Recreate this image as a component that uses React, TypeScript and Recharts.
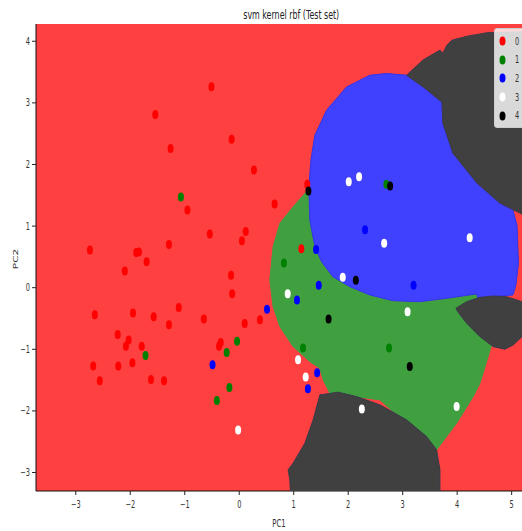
import React from "react";
import { ComposedChart, Scatter, XAxis, YAxis, CartesianGrid, Legend, Label } from "recharts";

const FONT = "'DejaVu Sans', sans-serif";
// the whole figure is drawn horizontally compressed, so text is squeezed too
const SQUISH = 0.66;

const xTicks = [-3, -2, -1, 0, 1, 2, 3, 4, 5];
const yTicks = [-3, -2, -1, 0, 1, 2, 3, 4];

type Pt = { x: number; y: number };

const classNames = ["0", "1", "2", "3", "4"];
const pointColors = ["#ff0000", "#008000", "#0000ff", "#ffffff", "#000000"];
const regionColors = ["#ff4040", "#40a040", "#4040ff", "#ffffff", "#404040"];

// test set, projected on the first two principal components
const class0: Pt[] = [
  { x: -0.51, y: 3.26 }, { x: -1.54, y: 2.81 }, { x: -0.14, y: 2.41 }, { x: -1.26, y: 2.26 },
  { x: 0.27, y: 1.91 }, { x: -0.95, y: 1.26 }, { x: -0.54, y: 0.87 }, { x: 0.12, y: 0.91 },
  { x: 0.05, y: 0.76 }, { x: -1.29, y: 0.7 }, { x: -2.74, y: 0.61 }, { x: -1.89, y: 0.57 },
  { x: -1.84, y: 0.58 }, { x: -1.7, y: 0.42 }, { x: -2.1, y: 0.27 }, { x: -0.15, y: 0.2 },
  { x: -0.13, y: -0.1 }, { x: -2.65, y: -0.44 }, { x: -1.95, y: -0.41 }, { x: -1.57, y: -0.47 },
  { x: -1.11, y: -0.32 }, { x: -1.29, y: -0.6 }, { x: -0.65, y: -0.51 }, { x: 0.1, y: -0.58 },
  { x: 0.38, y: -0.52 }, { x: -2.23, y: -0.76 }, { x: -2.03, y: -0.85 }, { x: -2.08, y: -0.95 },
  { x: -1.79, y: -0.95 }, { x: -1.96, y: -1.22 }, { x: -2.68, y: -1.27 }, { x: -2.22, y: -1.27 },
  { x: -2.56, y: -1.51 }, { x: -1.62, y: -1.49 }, { x: -1.38, y: -1.51 }, { x: -0.37, y: -0.95 },
  { x: -0.34, y: -0.89 }, { x: 1.25, y: 1.68 }, { x: 0.65, y: 1.36 }, { x: 1.14, y: 0.63 },
];
const class1: Pt[] = [
  { x: -1.07, y: 1.47 }, { x: 0.82, y: 0.4 }, { x: -1.72, y: -1.1 }, { x: -0.04, y: -0.87 },
  { x: -0.23, y: -1.05 }, { x: -0.18, y: -1.62 }, { x: -0.41, y: -1.83 }, { x: 2.7, y: 1.68 },
  { x: 1.17, y: -0.98 }, { x: 2.75, y: -0.98 },
];
const class2: Pt[] = [
  { x: 0.51, y: -0.35 }, { x: -0.49, y: -1.25 }, { x: 2.31, y: 0.94 }, { x: 1.41, y: 0.62 },
  { x: 1.46, y: 0.04 }, { x: 3.2, y: 0.04 }, { x: 1.06, y: -0.2 }, { x: 1.43, y: -1.38 },
  { x: 1.26, y: -1.64 },
];
const class3: Pt[] = [
  { x: 0.89, y: -0.1 }, { x: -0.02, y: -2.31 }, { x: 2.01, y: 1.72 }, { x: 2.2, y: 1.8 },
  { x: 2.66, y: 0.72 }, { x: 4.23, y: 0.81 }, { x: 1.9, y: 0.17 }, { x: 3.09, y: -0.39 },
  { x: 1.08, y: -1.17 }, { x: 1.22, y: -1.45 }, { x: 2.25, y: -1.97 }, { x: 3.99, y: -1.93 },
];
const class4: Pt[] = [
  { x: 2.77, y: 1.65 }, { x: 1.27, y: 1.57 }, { x: 2.14, y: 0.12 }, { x: 1.64, y: -0.51 },
  { x: 3.13, y: -1.28 },
];
const classPoints = [class0, class1, class2, class3, class4];

// decision regions of the rbf classifier (outlines in PC1/PC2 units)
const region1: Pt[] = [
  { x: 1.26, y: 1.584 }, { x: 0.99, y: 1.313 }, { x: 0.746, y: 1.044 }, { x: 0.622, y: 0.665 },
  { x: 0.562, y: 0.125 }, { x: 0.622, y: -0.308 }, { x: 0.746, y: -0.632 }, { x: 0.99, y: -0.957 },
  { x: 1.296, y: -1.2 }, { x: 1.48, y: -1.307 }, { x: 1.541, y: -1.497 }, { x: 1.664, y: -1.712 },
  { x: 2.582, y: -1.821 }, { x: 3.623, y: -2.632 }, { x: 3.99, y: -2.199 }, { x: 4.295, y: -1.767 },
  { x: 4.419, y: -1.55 }, { x: 4.633, y: -0.929 }, { x: 4.877, y: -0.929 }, { x: 4.785, y: -0.037 },
  { x: 3.867, y: -0.037 }, { x: 2.031, y: 0.449 },
];
const region2: Pt[] = [
  { x: 2.705, y: 3.477 }, { x: 3.072, y: 3.449 }, { x: 3.408, y: 3.238 }, { x: 3.72, y: 3.011 },
  { x: 3.738, y: 2.67 }, { x: 3.922, y: 2.184 }, { x: 4.363, y: 1.698 }, { x: 4.785, y: 1.373 },
  { x: 5.024, y: 1.26 }, { x: 5.098, y: 1.017 }, { x: 5.125, y: 0.401 }, { x: 5.079, y: 0.044 },
  { x: 5.024, y: -0.118 }, { x: 4.657, y: -0.146 }, { x: 4.382, y: -0.167 }, { x: 4.357, y: -0.102 },
  { x: 3.807, y: -0.172 }, { x: 3.316, y: -0.227 }, { x: 2.82, y: -0.211 }, { x: 2.398, y: -0.118 },
  { x: 2.031, y: 0.016 }, { x: 1.719, y: 0.178 }, { x: 1.511, y: 0.422 }, { x: 1.388, y: 0.665 },
  { x: 1.296, y: 1.098 }, { x: 1.278, y: 1.633 }, { x: 1.315, y: 2.071 }, { x: 1.388, y: 2.476 },
  { x: 1.603, y: 2.882 }, { x: 1.97, y: 3.259 }, { x: 2.398, y: 3.449 },
];
const region4Top: Pt[] = [
  { x: 3.072, y: 3.449 }, { x: 3.371, y: 3.694 }, { x: 3.683, y: 3.856 }, { x: 3.738, y: 3.806 },
  { x: 3.811, y: 3.935 }, { x: 3.903, y: 4.016 }, { x: 4.179, y: 4.081 }, { x: 4.546, y: 4.138 },
  { x: 5.189, y: 4.154 }, { x: 5.52, y: 4.16 }, { x: 5.52, y: 1.163 }, { x: 5.189, y: 1.195 },
  { x: 4.785, y: 1.373 }, { x: 4.363, y: 1.698 }, { x: 3.922, y: 2.184 }, { x: 3.738, y: 2.67 },
  { x: 3.72, y: 3.011 }, { x: 3.408, y: 3.238 },
];
const region4Right: Pt[] = [
  { x: 3.977, y: -0.334 }, { x: 4.174, y: -0.227 }, { x: 4.419, y: -0.156 }, { x: 4.662, y: -0.135 },
  { x: 4.908, y: -0.146 }, { x: 5.189, y: -0.227 }, { x: 5.52, y: -0.28 }, { x: 5.52, y: -0.686 },
  { x: 5.189, y: -0.795 }, { x: 5.029, y: -0.929 }, { x: 4.877, y: -0.999 }, { x: 4.662, y: -0.957 },
  { x: 4.419, y: -0.795 }, { x: 4.174, y: -0.577 }, { x: 4.014, y: -0.394 },
];
const region4Bottom: Pt[] = [
  { x: 1.48, y: -1.74 }, { x: 1.816, y: -1.696 }, { x: 2.154, y: -1.767 }, { x: 2.582, y: -1.902 },
  { x: 3.072, y: -2.145 }, { x: 3.439, y: -2.416 }, { x: 3.623, y: -2.632 }, { x: 3.684, y: -2.956 },
  { x: 3.684, y: -3.44 }, { x: 0.947, y: -3.44 }, { x: 0.929, y: -3.118 }, { x: 0.898, y: -2.956 },
  { x: 0.99, y: -2.847 }, { x: 1.205, y: -2.523 }, { x: 1.357, y: -2.145 },
];

const regions: { pts: Pt[]; color: string; edge: string }[] = [
  { pts: region1, color: regionColors[1], edge: regionColors[1] },
  { pts: region2, color: regionColors[2], edge: "#3535e8" },
  { pts: region4Top, color: regionColors[4], edge: "#3a3a4a" },
  { pts: region4Right, color: regionColors[4], edge: "#3a3a4a" },
  { pts: region4Bottom, color: regionColors[4], edge: "#3a3a4a" },
];

const closed = (pts: Pt[]) => [...pts, pts[0]];
const fmt = (v: number) => (v < 0 ? `\u2212${Math.abs(v)}` : `${v}`);

const Hidden = () => <g />;

const Dot = (props: any) => {
  const { cx, cy, fill } = props;
  if (cx == null || cy == null) return <g />;
  return <ellipse cx={cx} cy={cy} rx={3} ry={4.5} fill={fill} />;
};

const XTick = (props: any) => {
  const { x, y, payload } = props;
  return (
    <text
      transform={`translate(${x},${y}) scale(${SQUISH},1)`}
      textAnchor="middle"
      dy={11}
      fontSize={10}
      fontFamily={FONT}
      fill="#333"
    >
      {fmt(payload.value)}
    </text>
  );
};

const YTick = (props: any) => {
  const { x, y, payload } = props;
  return (
    <text
      transform={`translate(${x},${y}) scale(${SQUISH},1)`}
      textAnchor="end"
      dy={3.5}
      fontSize={10}
      fontFamily={FONT}
      fill="#333"
    >
      {fmt(payload.value)}
    </text>
  );
};

const XTitle = (props: any) => {
  const vb = props.viewBox;
  if (!vb) return null;
  return (
    <text
      transform={`translate(${vb.x + vb.width / 2},${vb.y + 35.5}) scale(${SQUISH},1)`}
      textAnchor="middle"
      fontSize={10.5}
      fontFamily={FONT}
      fill="#333"
    >
      PC1
    </text>
  );
};

const YTitle = (props: any) => {
  const vb = props.viewBox;
  if (!vb) return null;
  return (
    <text
      transform={`translate(${vb.x + 16},${vb.y + vb.height / 2 + 1.5}) scale(${SQUISH},1) rotate(-90)`}
      textAnchor="middle"
      dy={3.7}
      fontSize={10.5}
      fontFamily={FONT}
      fill="#333"
    >
      PC2
    </text>
  );
};

const LegendBox = (props: any) => {
  const items = (props.payload || []).filter((e: any) => classNames.includes(String(e.value)));
  return (
    <div
      style={{
        background: "rgba(255,255,255,0.8)",
        border: "1px solid #cccccc",
        borderRadius: 3,
        padding: "3px 0 2px 4px",
        fontFamily: FONT,
      }}
    >
      {items.map((entry: any) => {
        const idx = classNames.indexOf(String(entry.value));
        return (
          <div key={entry.value} style={{ display: "flex", alignItems: "center", height: 18.6 }}>
            <svg width={7} height={10} style={{ display: "block" }}>
              <ellipse cx={3.5} cy={5} rx={3} ry={4.5} fill={pointColors[idx]} />
            </svg>
            <span
              style={{
                display: "inline-block",
                marginLeft: 9,
                fontSize: 10,
                color: "#333",
                transform: `scaleX(${SQUISH})`,
                transformOrigin: "left center",
              }}
            >
              {entry.value}
            </span>
          </div>
        );
      })}
    </div>
  );
};

export default function App() {
  return (
    <div style={{ position: "absolute", left: 0, top: 0, width: 522, height: 531, overflow: "hidden" }}>
      <ComposedChart width={522} height={531} margin={{ top: 24, right: 0, bottom: 0, left: 0 }}>
        <CartesianGrid horizontal={false} vertical={false} fill={regionColors[0]} fillOpacity={1} />
        <XAxis
          type="number"
          dataKey="x"
          domain={[-3.73, 5.19]}
          ticks={xTicks}
          allowDataOverflow
          height={40}
          tickSize={4}
          tickMargin={2}
          tickLine={{ stroke: "#222" }}
          axisLine={{ stroke: "#111" }}
          tick={<XTick />}
        >
          <Label content={<XTitle />} />
        </XAxis>
        <XAxis
          xAxisId="top"
          orientation="top"
          type="number"
          dataKey="x"
          domain={[-3.73, 5.19]}
          allowDataOverflow
          height={0}
          tick={false}
          tickLine={false}
          axisLine={{ stroke: "#111" }}
        />
        <YAxis
          type="number"
          dataKey="y"
          domain={[-3.3, 4.28]}
          ticks={yTicks}
          allowDataOverflow
          width={36}
          tickSize={4}
          tickMargin={2}
          tickLine={{ stroke: "#222" }}
          axisLine={{ stroke: "#111" }}
          tick={<YTick />}
        >
          <Label content={<YTitle />} />
        </YAxis>

        {regions.map((r, i) => (
          <Scatter
            key={`region-${i}`}
            data={closed(r.pts)}
            fill={r.color}
            shape={<Hidden />}
            line={{ fill: r.color, stroke: r.edge, strokeWidth: 1 }}
            lineJointType="linear"
            legendType="none"
            isAnimationActive={false}
          />
        ))}

        {classPoints.map((pts, i) => (
          <Scatter
            key={`class-${i}`}
            name={classNames[i]}
            data={pts}
            fill={pointColors[i]}
            shape={<Dot />}
            isAnimationActive={false}
          />
        ))}

        <Legend
          layout="vertical"
          align="center"
          verticalAlign="middle"
          wrapperStyle={{ left: 494, top: 28, width: 40 }}
          content={<LegendBox />}
        />
      </ComposedChart>
      <div
        style={{
          position: "absolute",
          top: 9,
          left: 36,
          width: 486,
          textAlign: "center",
          fontFamily: FONT,
          fontSize: 12,
          lineHeight: "12px",
          color: "#222",
          transform: `scaleX(${SQUISH})`,
          transformOrigin: "279px center",
          whiteSpace: "nowrap",
        }}
      >
        svm kernel rbf (Test set)
      </div>
    </div>
  );
}
